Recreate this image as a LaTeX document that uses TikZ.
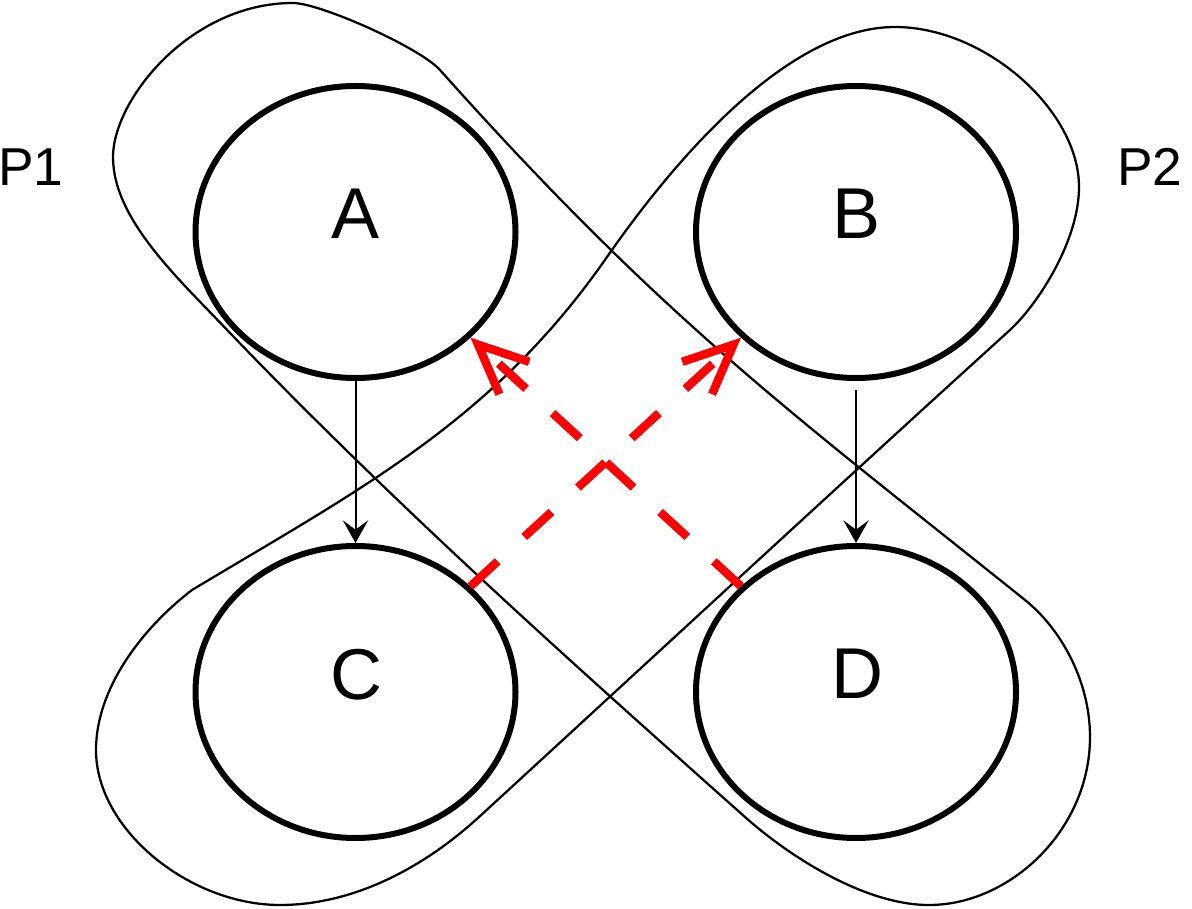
\documentclass[tikz,border=0pt]{standalone}
\usepackage{fontspec}
\setmainfont{Liberation Sans}
\usetikzlibrary{shapes.geometric,arrows.meta}
\begin{document}
\begin{tikzpicture}[x=0.75pt,y=-0.75pt,
  circ/.style={ellipse, draw, line width=4.5pt, minimum width=240pt, minimum height=219pt, inner sep=0pt},
  big/.style={font=\fontsize{54}{60}\selectfont, inner sep=0pt},
  plab/.style={font=\fontsize{40}{48}\selectfont, inner sep=0pt},
  loopline/.style={line width=1.7pt, line join=round},
  flow/.style={line width=1.5pt, -{Stealth[length=17pt,width=19pt,inset=7pt]}},
  dep/.style={red, line width=6.3pt, dash pattern=on 27.75pt off 27pt, -{Straight Barb[sharp,length=37pt,width=33pt]}}
]
\useasboundingbox (0,0) rectangle (1192,909);

% loop P1 (around A and D)
\draw[loopline] (293,3) .. controls (320,3) and (420,47.6) .. (440,70)
  .. controls (665,322) and (793,414) .. (1025,600)
  .. controls (1060,628) and (1090,680) .. (1090,737)
  .. controls (1090,830) and (1010,905) .. (929,905)
  .. controls (865,905) and (790,857) .. (745,817)
  .. controls (580,670) and (400,510) .. (230,333)
  .. controls (180,280) and (113,220) .. (113,157)
  .. controls (113,100) and (190,3) .. (293,3) -- cycle;

% loop P2 (around B and C)
\draw[loopline] (895,27) .. controls (985,27) and (1079,110) .. (1079,187)
  .. controls (1079,240) and (1039,303) .. (1010,330)
  .. controls (850,475) and (650,660) .. (479,817)
  .. controls (420,871) and (350,905) .. (280,905)
  .. controls (190,905) and (96,830) .. (96,750)
  .. controls (96,690) and (140,630) .. (192,590)
  .. controls (360.7,488.8) and (493,421) .. (607,257)
  .. controls (669.7,166.8) and (785,27) .. (895,27) -- cycle;

% circles
\node[circ] (A) at (355.5,232) {};
\node[circ] (B) at (856,232) {};
\node[circ] (C) at (355.5,692) {};
\node[circ] (D) at (856,692) {};

\node[big] (tA) at (356,214) {A};
\node[big] (tB) at (857,214) {B};
\node[big] (tC) at (356,675) {C};
\node[big] (tD) at (857,674) {D};

\node[plab] (p1) at (31,167) {P1};
\node[plab] (p2) at (1150,167) {P2};

% arrows
\draw[flow] (A.south) -- (C.north);
\draw[flow] ([yshift=-6.5pt]B.south) -- (D.north);

\draw[dep] (C) -- (B);
\draw[dep] (D) -- (A);
\end{tikzpicture}
\end{document}
